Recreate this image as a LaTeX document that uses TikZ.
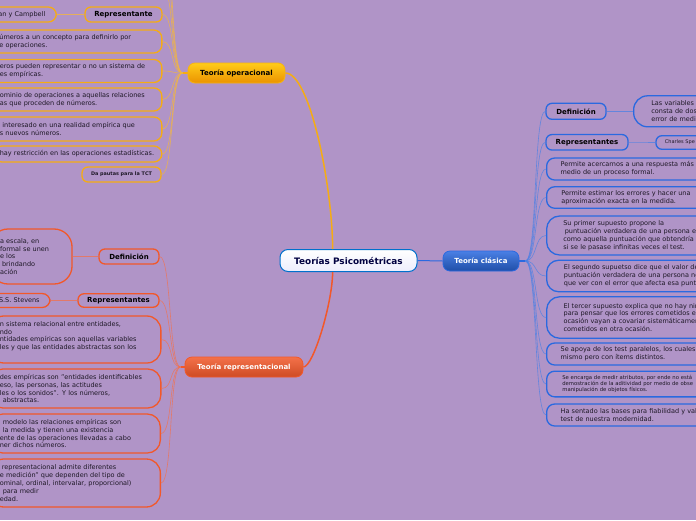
\documentclass[tikz,border=0pt]{standalone}
\usepackage{fontspec}
\setmainfont{DejaVu Sans}
\usetikzlibrary{calc}
\definecolor{bgcol}{HTML}{B094C7}
\definecolor{txtcol}{HTML}{1E1826}
\definecolor{opcol}{HTML}{F5AC14}
\definecolor{repcol}{HTML}{F2582A}
\definecolor{clcol}{HTML}{2A69E0}

\begin{document}
\begin{tikzpicture}[x=1pt,y=-1pt,
    every node/.style={font=\fontsize{6.5}{7.9}\selectfont,text=txtcol},
    bub/.style={draw,line width=1.3pt,rounded corners=8pt,align=left,inner ysep=0pt},
    lcut/.style={bub,anchor=east,inner xsep=10pt},
    rcut/.style={bub,anchor=west,text width=230pt},
    lab/.style={draw,line width=1.3pt,rounded corners=6pt,inner sep=0pt,
        font=\fontsize{7}{8}\selectfont\bfseries,text=black},
    branch/.style={draw,line width=0.8pt,rounded corners=7pt,minimum height=20pt,
        inner sep=0pt,font=\fontsize{7}{8}\selectfont\bfseries},
    opb/.style={draw=opcol}, repb/.style={draw=repcol}, clb/.style={draw=clcol},
    opline/.style={opcol!85!white,line width=0.6pt,opacity=0.75},
    repline/.style={repcol!85!white,line width=0.6pt,opacity=0.75},
    clline/.style={clcol!85!white,line width=0.6pt,opacity=0.75}]
    \useasboundingbox (0,0) rectangle (696,520);
    \fill[bgcol] (0,0) rectangle (696,520);
    \clip (0,0) rectangle (696,520);

    % centre and main branches
    \node[draw=blue!45!cyan!80!black,line width=1pt,rounded corners=8pt,top color=white,
        bottom color=gray!25!blue!8,minimum width=137pt,minimum height=22pt,inner sep=0pt,
        font=\fontsize{8.9}{10}\selectfont\bfseries,text=blue!25!black] (root) at (348.5,260.5) {Teorías Psicométricas};
    \node[branch,draw=clcol,top color=clcol!85!white,bottom color=clcol!75!black,
        text=white,minimum width=76pt] (cla) at (481,261) {Teoría clásica};
    \node[branch,draw=opcol!90!yellow,top color=yellow!55!orange!90!white,bottom color=orange!75!yellow!92!black,
        text=black,minimum width=97pt] (op) at (236.5,73) {Teoría operacional};
    \node[branch,draw=repcol,top color=repcol!85!white,bottom color=repcol!85!black,
        text=white,minimum width=118pt] (rep) at (244,367) {Teoría representacional};

    \coordinate (opHub) at ($(op.west)+(-5,0)$);
    \coordinate (repHub) at ($(rep.west)+(-4,0)$);
    \coordinate (clHub) at ($(cla.east)+(6,0)$);

    \draw[opcol,line width=1.5pt] ($(root.north west)!0.385!(root.north east)$)
        .. controls +(0,-60) and +(25,0) .. (op.east);
    \draw[repcol,line width=1.5pt] ($(root.south west)!0.385!(root.south east)$)
        .. controls +(0,30) and +(10,0) .. (rep.east);
    \draw[clcol,line width=1pt] (root.east) -- (cla.west);
    \draw[opcol,line width=1.2pt] (op.west) -- (opHub);
    \draw[repcol,line width=1.2pt] (rep.west) -- (repHub);
    \draw[clcol,line width=1.2pt] (cla.east) -- (clHub);

    % Teoria operacional
    \node[lab,opb,minimum width=77pt,minimum height=15pt] (opRep) at (123.5,14.5) {Representante};
    \node[lcut,opb,text width=48pt,minimum height=15pt] (opName) at (57,14.5) {an y Campbell};
    \node[lcut,opb,text width=156.5pt,minimum height=23pt] (op1) at (162.5,41.5)
        {números a un concepto para definirlo por\\de operaciones.};
    \node[lcut,opb,text width=152pt,minimum height=23pt] (op2) at (162.5,71)
        {eros pueden representar o no un sistema de\\es empíricas.};
    \node[lcut,opb,text width=152pt,minimum height=23pt] (op3) at (162.5,99.5)
        {ominio de operaciones a aquellas relaciones\\as que proceden de números.};
    \node[lcut,opb,text width=152pt,minimum height=24pt] (op4) at (162.5,129)
        {\hspace*{2.5pt}interesado en una realidad empírica que\\s nuevos números.};
    \node[lcut,opb,inner xsep=6pt,text width=156pt,minimum height=16pt] (op5) at (162.5,154)
        {hay restricción en las operaciones estadísticas.};
    \node[lab,opb,minimum width=79pt,minimum height=15pt,
        font=\fontsize{4.9}{6}\selectfont\bfseries,text=txtcol] (opTct) at (121.5,174.5) {Da pautas para la TCT};
    \coordinate (opUp1) at (162,-14);
    \coordinate (opUp2) at (162,-40);
    \coordinate (opUp3) at (162,-66);

    \foreach \n in {opRep,op1,op2,op3,op4,op5,opTct}
        \draw[opline] (opHub) .. controls +(-12,0) and +(12,0) .. (\n.east);
    \foreach \n in {opUp1,opUp2,opUp3}
        \draw[opline] (opHub) .. controls +(-12,0) and +(12,0) .. (\n);
    \draw[opline] (opRep.west) -- (opName.east);

    % Teoria representacional
    \node[lab,repb,minimum width=60pt,minimum height=15pt] (repDef) at (129,256.5) {Definición};
    \node[lcut,repb,rounded corners=18pt,text width=62pt,minimum height=55pt] (repDefTxt) at (72.7,256.5)
        {a escala, en\\formal se unen\\e los\\\hspace*{2pt}brindando\\ación};
    \node[lab,repb,minimum width=81pt,minimum height=13.5pt] (repRep) at (118.5,300.5) {Representantes};
    \node[lcut,repb,inner xsep=7pt,text width=44pt,minimum height=14pt] (repName) at (50.7,300.5) {S.S. Stevens};
    \node[lcut,repb,rounded corners=14pt,text width=151pt,minimum height=47pt] (rep3) at (161.5,339.5)
        {n sistema relacional entre entidades,\\ndo\\ntidades empíricas son aquellas variables\\les y que las entidades abstractas son los\\\mbox{}};
    \node[lcut,repb,rounded corners=13pt,text width=151pt,minimum height=39pt] (rep4) at (161.5,388.5)
        {des empíricas son "entidades identificables\\eso, las personas, las actitudes\\les o los sonidos". Y los números,\\\hspace*{3pt}abstractas.};
    \node[lcut,repb,rounded corners=13pt,text width=150.5pt,minimum height=39pt] (rep5) at (161,433.5)
        {\hspace*{3pt}modelo las relaciones empíricas son\\\hspace*{3pt}la medida y tienen una existencia\\ente de las operaciones llevadas a cabo\\ner dichos números.};
    \node[lcut,repb,rounded corners=14pt,text width=150.5pt,minimum height=48pt] (rep6) at (161,483)
        {\hspace*{2pt}representacional admite diferentes\\e medición” que dependen del tipo de\\ominal, ordinal, intervalar, proporcional)\\\hspace*{3pt}para medir\\edad.};

    \foreach \n in {repDef,repRep,rep3,rep4,rep5,rep6}
        \draw[repline] (repHub) .. controls +(-12,0) and +(12,0) .. (\n.east);
    \draw[repline] (repDef.west) -- (repDefTxt.east);
    \draw[repline] (repRep.west) -- (repName.east);

    % Teoria clasica
    \node[lab,clb,minimum width=60pt,minimum height=16pt] (clDef) at (576,111.3) {Definición};
    \node[rcut,clb,rounded corners=14pt,inner xsep=17.7pt,minimum height=31pt] (clDefTxt) at (633,111.3)
        {Las variables s\\consta de dos\\error de medi};
    \node[lab,clb,minimum width=82pt,minimum height=15.5pt] (clRep) at (587,142.3) {Representantes};
    \node[rcut,clb,rounded corners=6pt,inner xsep=9pt,minimum height=13.6pt,
        font=\fontsize{5}{6}\selectfont] (clName) at (655.3,142.5) {Charles Spe};
    \node[rcut,clb,inner xsep=14pt,minimum height=22pt] (cl1) at (546,169)
        {Permite acercarnos a una respuesta más\\medio de un proceso formal.};
    \node[rcut,clb,inner xsep=14.7pt,minimum height=21.5pt] (cl2) at (546,197.5)
        {Permite estimar los errores y hacer una\\aproximación exacta en la medida.};
    \node[rcut,clb,rounded corners=13pt,inner xsep=16.7pt,minimum height=39pt] (cl3) at (546,235.5)
        {Su primer supuesto propone la\\\hspace*{1.5pt}puntuación verdadera de una persona e\\como aquella puntuación que obtendría\\si se le pasase infinitas veces el test.};
    \node[rcut,clb,rounded corners=12pt,inner xsep=17.3pt,minimum height=31.5pt] (cl4) at (546,276)
        {El segundo supuetso dice que el valor de\\puntuación verdadera de una persona no\\que ver con el error que afecta esa punt};
    \node[rcut,clb,rounded corners=13pt,inner xsep=17pt,minimum height=41.5pt] (cl5) at (546,317.5)
        {El tercer supuesto explica que no hay nin\\para pensar que los errores cometidos e\\ocasión vayan a covariar sistemáticamen\\cometidos en otra ocasión.};
    \node[rcut,clb,inner xsep=14pt,minimum height=22pt] (cl6) at (546,354)
        {Se apoya de los test paralelos, los cuales\\mismo pero con ítems distintos.};
    \node[rcut,clb,inner xsep=15.7pt,minimum height=25.7pt,font=\fontsize{5.3}{6.3}\selectfont] (cl7) at (546,384)
        {Se encarga de medir atributos, por ende no está\\demostración de la aditividad por medio de obse\\manipulación de objetos físicos.};
    \node[rcut,clb,inner xsep=14pt,minimum height=22pt] (cl8) at (546,415)
        {Ha sentado las bases para fiabilidad y val\\test de nuestra modernidad.};

    \foreach \n in {clDef,clRep,cl1,cl2,cl3,cl4,cl5,cl6,cl7,cl8}
        \draw[clline] (clHub) .. controls +(12,0) and +(-12,0) .. (\n.west);
    \draw[clline] (clDef.east) -- (clDefTxt.west);
    \draw[clline] (clRep.east) -- (clName.west);
\end{tikzpicture}
\end{document}
